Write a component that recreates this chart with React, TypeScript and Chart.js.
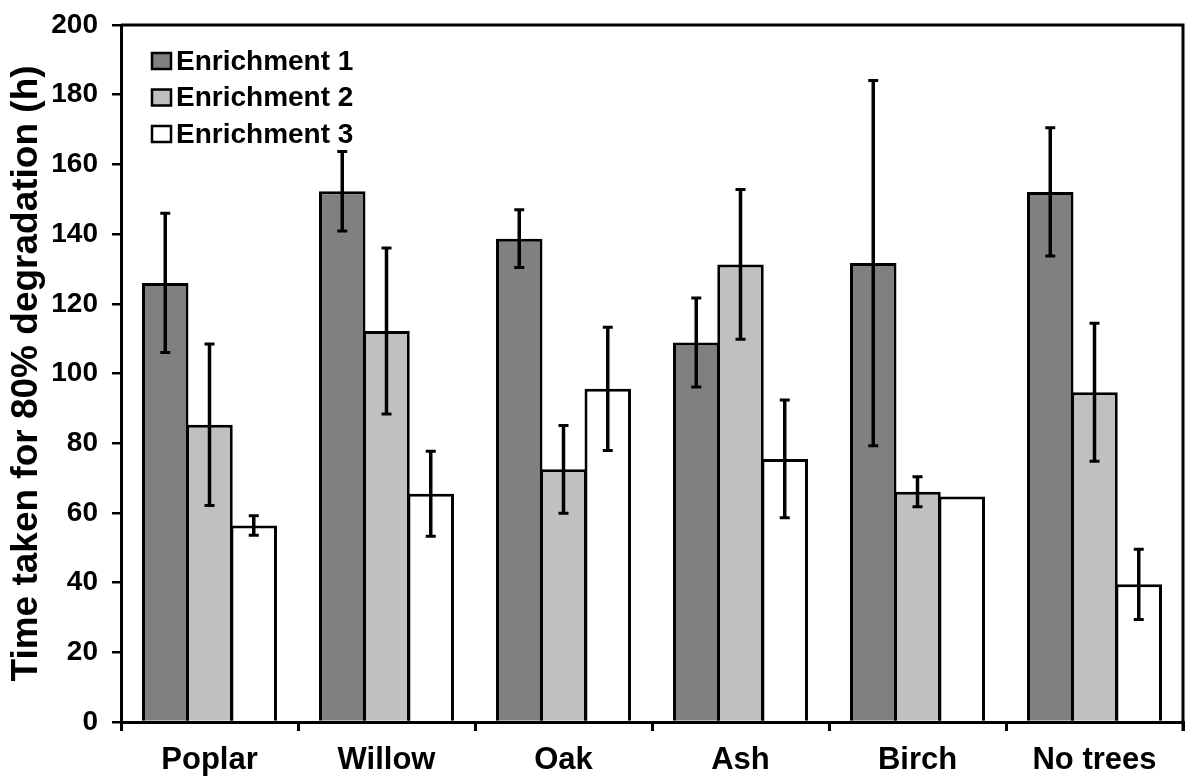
import React, { useEffect, useRef } from "react";
import { Chart, registerables } from "chart.js";

Chart.register(...registerables);

const categories = ["Poplar", "Willow", "Oak", "Ash", "Birch", "No trees"];
const seriesNames = ["Enrichment 1", "Enrichment 2", "Enrichment 3"];
const enrichment1 = [126, 152.3, 138.7, 108.9, 131.7, 152.1];
const enrichment1Err = [20, 11.4, 8.3, 12.8, 52.4, 18.4];
const enrichment2 = [85.3, 112.2, 72.5, 131.3, 66.1, 94.6];
const enrichment2Err = [23.2, 23.8, 12.6, 21.5, 4.3, 19.8];
const enrichment3 = [56.4, 65.5, 95.6, 75.5, 64.7, 39.5];
const enrichment3Err = [2.8, 12.2, 17.7, 16.9, 0, 10.1];
const seriesColors = ["#808080", "#c0c0c0", "#ffffff"];
const yTickStep = 20;
const yMax = 200;

const FONT = "'Liberation Sans', Arial, sans-serif";

const errorBarPlugin = {
  id: "errorBars",
  afterDatasetsDraw(chart: any) {
    const ctx = chart.ctx;
    const yScale = chart.scales.y;
    ctx.save();
    ctx.strokeStyle = "#000";
    chart.data.datasets.forEach((ds: any, i: number) => {
      const meta = chart.getDatasetMeta(i);
      meta.data.forEach((bar: any, j: number) => {
        const err = ds.errors[j];
        if (!err) return;
        const v = ds.data[j];
        const yTop = yScale.getPixelForValue(v + err);
        const yBot = yScale.getPixelForValue(v - err);
        const x = bar.x;
        ctx.lineWidth = 3.5;
        ctx.beginPath();
        ctx.moveTo(x, yTop);
        ctx.lineTo(x, yBot);
        ctx.stroke();
        ctx.lineWidth = 3;
        ctx.beginPath();
        ctx.moveTo(x - 5, yTop);
        ctx.lineTo(x + 5, yTop);
        ctx.moveTo(x - 5, yBot);
        ctx.lineTo(x + 5, yBot);
        ctx.stroke();
      });
    });
    ctx.restore();
  },
};

const framePlugin = {
  id: "frame",
  afterDraw(chart: any) {
    const { ctx, chartArea } = chart;
    ctx.save();
    ctx.strokeStyle = "#000";
    ctx.lineWidth = 3;
    ctx.beginPath();
    ctx.moveTo(chartArea.left, chartArea.top);
    ctx.lineTo(chartArea.right, chartArea.top);
    ctx.lineTo(chartArea.right, chartArea.bottom + 9);
    ctx.stroke();
    ctx.restore();
  },
};

const insideLegendPlugin = {
  id: "insideLegend",
  afterDraw(chart: any) {
    const { ctx, chartArea } = chart;
    ctx.save();
    const x0 = chartArea.left + 31;
    let y = chartArea.top + 36;
    chart.data.datasets.forEach((ds: any) => {
      ctx.fillStyle = ds.backgroundColor;
      ctx.fillRect(x0, y - 8, 19, 16);
      ctx.strokeStyle = "#000";
      ctx.lineWidth = 2.5;
      ctx.strokeRect(x0, y - 8, 19, 16);
      ctx.fillStyle = "#000";
      ctx.font = `bold 28px ${FONT}`;
      ctx.textBaseline = "middle";
      ctx.textAlign = "left";
      ctx.fillText(ds.label, x0 + 24, y + 1);
      y += 36.5;
    });
    ctx.restore();
  },
};

export default function App() {
  const canvasRef = useRef<HTMLCanvasElement | null>(null);

  useEffect(() => {
    document.body.style.margin = "0";
    const canvas = canvasRef.current;
    if (!canvas) return;
    const values = [enrichment1, enrichment2, enrichment3];
    const errors = [enrichment1Err, enrichment2Err, enrichment3Err];
    const chart = new Chart(canvas, {
      type: "bar",
      data: {
        labels: categories,
        datasets: seriesNames.map((name, i) => ({
          label: name,
          data: values[i],
          errors: errors[i],
          backgroundColor: seriesColors[i],
          borderColor: "#000",
          borderWidth: 3,
          borderSkipped: "start",
          categoryPercentage: 0.75,
          barPercentage: 1.05,
        })) as any,
      },
      options: {
        animation: false,
        responsive: false,
        maintainAspectRatio: false,
        layout: { padding: { top: 25, right: 5, left: 0, bottom: 0 } },
        plugins: {
          legend: { display: false },
          tooltip: { enabled: false },
        },
        scales: {
          x: {
            grid: {
              offset: true,
              drawOnChartArea: false,
              drawTicks: true,
              tickLength: 9,
              color: "#000",
              lineWidth: 3,
            },
            border: { color: "#000", width: 3 },
            ticks: {
              color: "#000",
              font: { family: FONT, weight: "bold", size: 31 },
              padding: 11,
            },
            afterFit(scale: any) {
              scale.height = 54;
            },
          },
          y: {
            min: 0,
            max: yMax,
            grid: {
              drawOnChartArea: false,
              drawTicks: true,
              tickLength: 9,
              color: "#000",
              lineWidth: 2.5,
            },
            border: { color: "#000", width: 3 },
            ticks: {
              stepSize: yTickStep,
              color: "#000",
              font: { family: FONT, weight: "bold", size: 28 },
              padding: 14,
            },
            title: {
              display: true,
              text: "Time taken for 80% degradation (h)",
              color: "#000",
              font: { family: FONT, weight: "bold", size: 37 },
              padding: { top: 5, bottom: 0 },
            },
            afterFit(scale: any) {
              scale.width = 121;
              scale.paddingTop = 0;
              scale.paddingBottom = 0;
            },
          },
        },
      },
      plugins: [errorBarPlugin, framePlugin, insideLegendPlugin],
    });
    return () => chart.destroy();
  }, []);

  return (
    <div style={{ position: "absolute", left: 0, top: 0, width: 1188, height: 776, background: "#fff" }}>
      <canvas ref={canvasRef} width={1188} height={776} />
    </div>
  );
}
